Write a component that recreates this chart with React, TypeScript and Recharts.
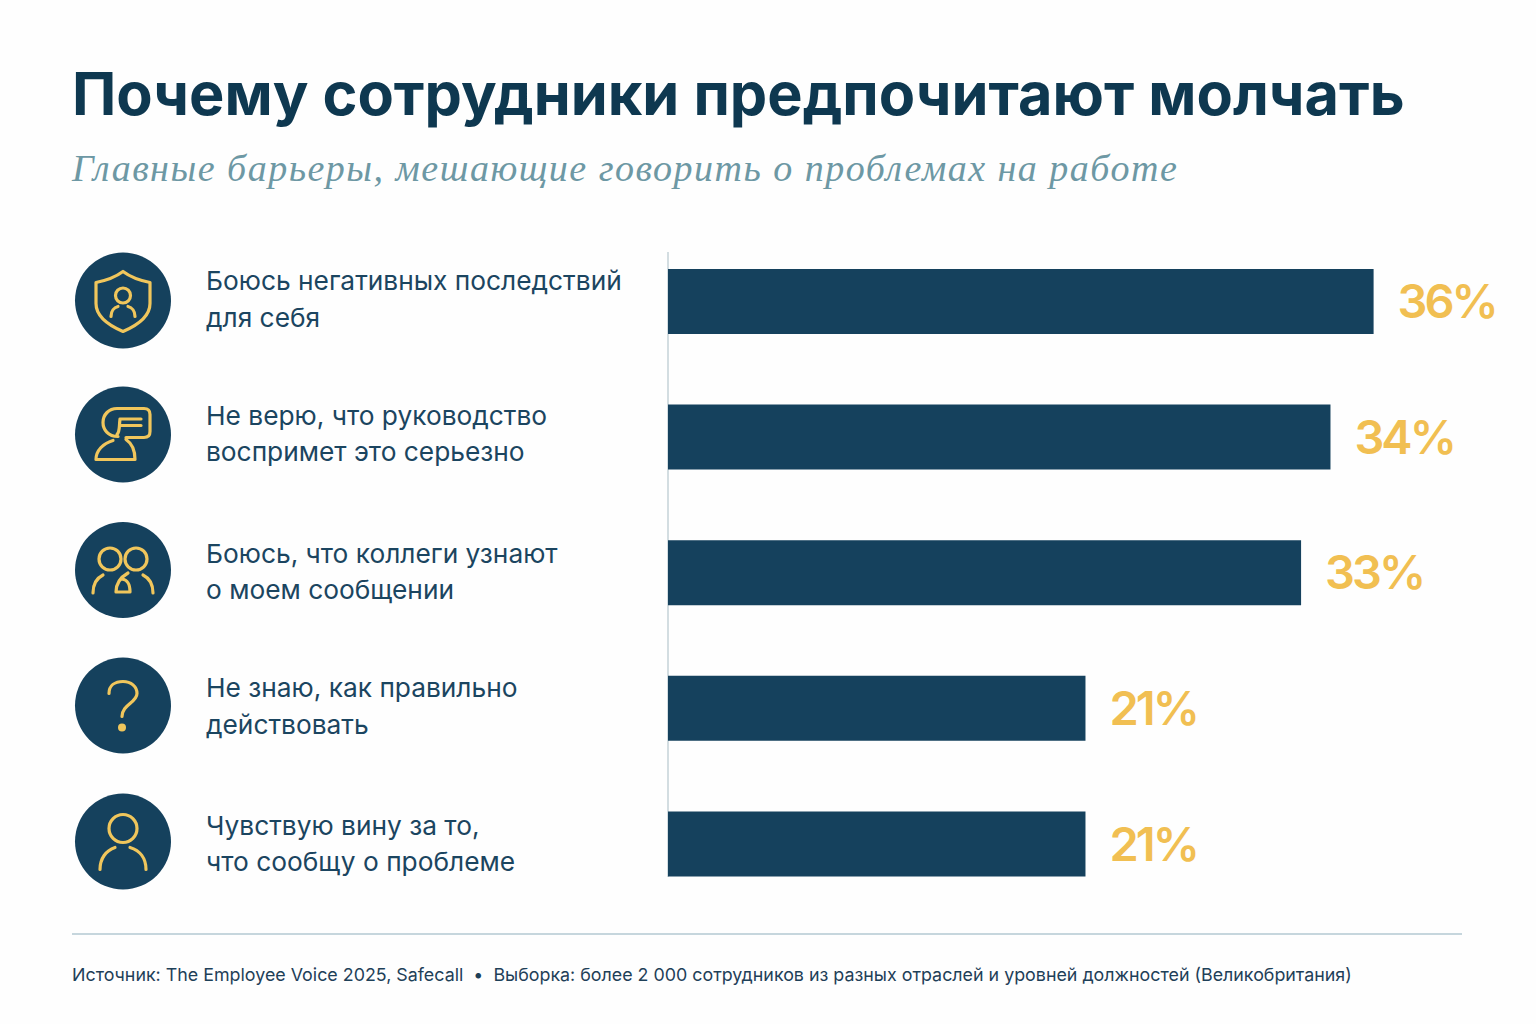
import { BarChart, Bar, XAxis, YAxis, LabelList } from 'recharts';

const categories = [
  ['Боюсь негативных последствий', 'для себя'],
  ['Не верю, что руководство', 'воспримет это серьезно'],
  ['Боюсь, что коллеги узнают', 'о моем сообщении'],
  ['Не знаю, как правильно', 'действовать'],
  ['Чувствую вину за то,', 'что сообщу о проблеме'],
];
// bar lengths as measured in the picture, the printed labels round them differently
const barLengths = [36, 33.8, 32.3, 21.3, 21.3];
const valueLabels = ['36%', '34%', '33%', '21%', '21%'];

const data = categories.map((lines, i) => ({
  name: lines.join(' '),
  lines,
  value: barLengths[i],
  label: valueLabels[i],
}));

const NAVY = '#15415d';
const GOLD = '#f1bf52';
const ICON_GOLD = '#f0c65c';
const TEXT = '#1b4560';
const FONT = 'Inter, "Noto Sans", sans-serif';

const iconOffsets = [-1.3, -2.9, -3, -3.1, -2.7];
const textOffsets = [0, -1, 1, 0, 2];

function ShieldIcon() {
  return (
    <>
      <path d="M0 -29 C-8 -23 -17 -20 -27 -18 V3 C-27 16 -14 25 0 31 C14 25 27 16 27 3 V-18 C17 -20 8 -23 0 -29Z" />
      <circle cx={0} cy={-5} r={7.5} />
      <path d="M-12 16 C-12 11 -9 7 -5 6 M5 6 C9 7 12 11 12 16" />
    </>
  );
}

function SpeechIcon() {
  return (
    <>
      <path d="M-5 2 C-15 2 -20 -5 -20 -12 C-20 -20 -14 -26 -6 -26 H21 Q27 -26 27 -20 V-3 Q27 3 21 3 H3" />
      <path d="M-3 -15.5 H18 M-3 -9 H18 M-3 -15.5 C-4 -8 -3 -3 -6 0" />
      <path d="M-10 6 C-20 9 -27 16 -27 25 H12 C12 16 9 9 3 5" />
    </>
  );
}

function GroupIcon() {
  return (
    <>
      <circle cx={-13} cy={-11} r={11} />
      <circle cx={13} cy={-11} r={11} />
      <path d="M-30 23 C-30 14 -26 8 -20 5 M20 5 C26 8 30 14 30 23" />
      <path d="M5 3 C-2 7 -7 14 -7 22 H7 C7 14 5 10 -1 9" />
    </>
  );
}

function QuestionIcon() {
  return (
    <>
      <path d="M-14 -12 C-14 -20 -8 -24 0 -24 C8 -24 14 -19 14 -12 C14 -3 -1 -1 -1 11" />
      <circle cx={-1} cy={22} r={4} fill={ICON_GOLD} stroke="none" />
    </>
  );
}

function PersonIcon() {
  return (
    <>
      <circle cx={0} cy={-13} r={14} />
      <path d="M-23 28 C-23 17 -17 9 -8 6 M7 6 C17 9 23 17 23 28" />
    </>
  );
}

const icons = [ShieldIcon, SpeechIcon, GroupIcon, QuestionIcon, PersonIcon];

function RowTick({ y, index }: { y?: number; index?: number }) {
  const i = index ?? 0;
  const cy = (y ?? 0) + iconOffsets[i];
  const base = (y ?? 0) + textOffsets[i];
  const Icon = icons[i];
  const lines = categories[i];
  return (
    <g>
      <circle cx={123} cy={cy} r={48} fill={NAVY} />
      <g
        transform={`translate(123 ${cy})`}
        fill="none"
        stroke={ICON_GOLD}
        strokeWidth={3.2}
        strokeLinecap="round"
        strokeLinejoin="round"
      >
        <Icon />
      </g>
      <text x={206} y={base - 11.5} fill={TEXT} fontSize={26.3} fontFamily={FONT}>
        {lines[0]}
      </text>
      <text x={206} y={base + 25} fill={TEXT} fontSize={26.3} fontFamily={FONT}>
        {lines[1]}
      </text>
    </g>
  );
}

export default function App() {
  return (
    <div style={{ position: 'absolute', left: 0, top: 0, width: 1536, height: 1024, background: '#fefefe', overflow: 'hidden' }}>
      <div style={{ position: 'absolute', left: 72, top: 53, fontFamily: FONT, fontWeight: 700, fontSize: 59.4, lineHeight: '80px', color: '#0e3850', whiteSpace: 'nowrap' }}>
        Почему сотрудники предпочитают молчать
      </div>
      <div style={{ position: 'absolute', left: 72, top: 145, fontFamily: '"Liberation Serif", serif', fontStyle: 'italic', fontSize: 38, letterSpacing: 1.5, lineHeight: '46px', color: '#6d98a4', whiteSpace: 'nowrap' }}>
        Главные барьеры, мешающие говорить о проблемах на работе
      </div>
      <div style={{ position: 'absolute', left: 667, top: 252, width: 2, height: 625, background: '#d3dde1' }} />
      <div style={{ position: 'absolute', left: 0, top: 0 }}>
        <BarChart
          width={1536}
          height={1024}
          data={data}
          layout="vertical"
          margin={{ top: 234, right: 84, bottom: 112, left: 0 }}
        >
          <XAxis type="number" domain={[0, 40]} hide />
          <YAxis
            type="category"
            dataKey="name"
            width={668}
            interval={0}
            axisLine={false}
            tickLine={false}
            tick={(props: any) => <RowTick y={props.y} index={props.index} />}
          />
          <Bar dataKey="value" fill={NAVY} barSize={65} isAnimationActive={false}>
            <LabelList
              dataKey="label"
              position="right"
              offset={24}
              fill={GOLD}
              fontSize={47}
              fontWeight={600}
              fontFamily={FONT}
              letterSpacing={-3}
            />
          </Bar>
        </BarChart>
      </div>
      <div style={{ position: 'absolute', left: 72, top: 933, width: 1390, height: 2, background: '#c6d6dd' }} />
      <div style={{ position: 'absolute', left: 72, top: 963, fontFamily: FONT, fontSize: 17.85, lineHeight: '24px', color: '#1e4058', whiteSpace: 'nowrap' }}>
        Источник: The Employee Voice 2025, Safecall&nbsp; •&nbsp; Выборка: более 2 000 сотрудников из разных отраслей и уровней должностей (Великобритания)
      </div>
    </div>
  );
}
